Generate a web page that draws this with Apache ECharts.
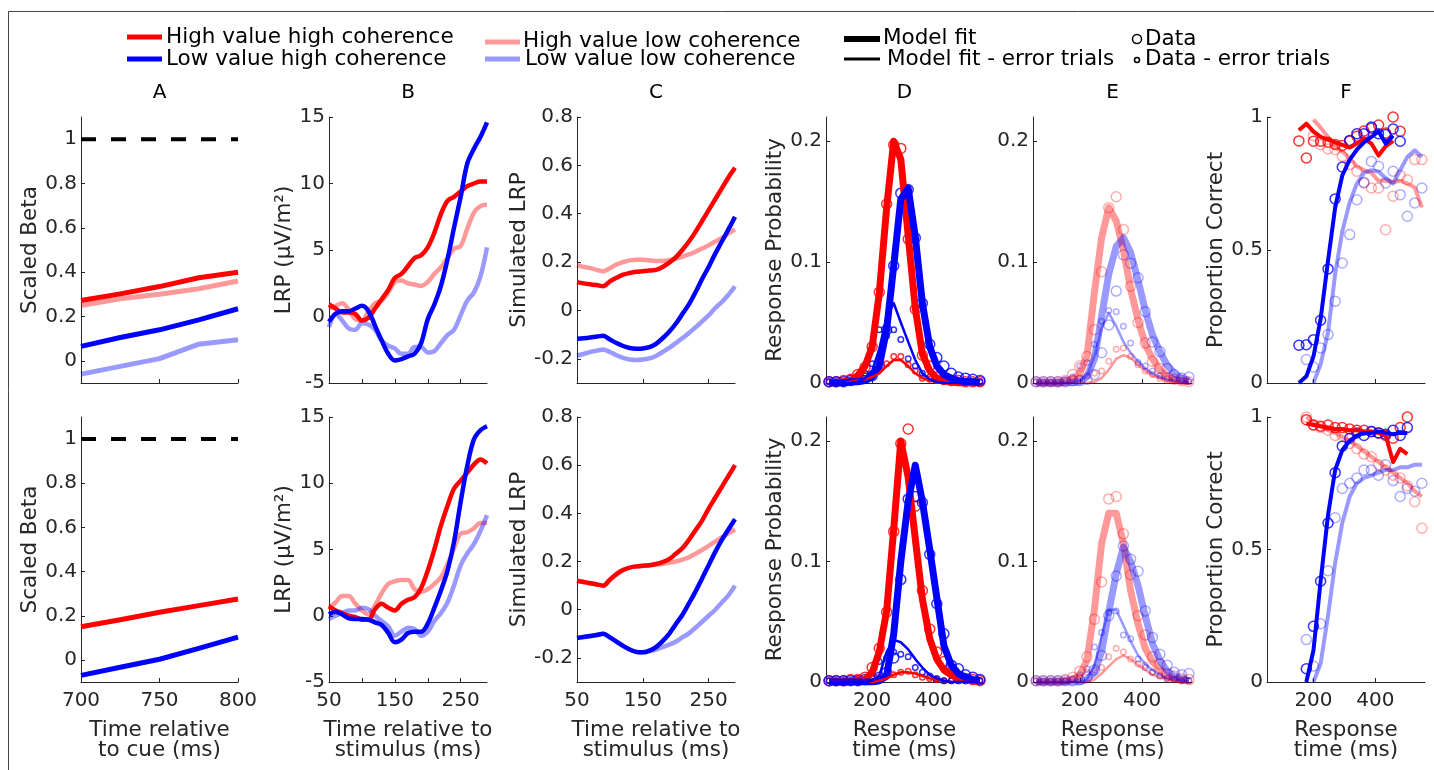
<!DOCTYPE html>
<html>
<head>
<meta charset="utf-8">
<title>Value and coherence model fits</title>
<script src="https://cdn.jsdelivr.net/npm/echarts@6.0.0/dist/echarts.min.js"></script>
<style>
  html, body { margin: 0; padding: 0; background: #fff; }
  #chart { width: 1434px; height: 770px; }
</style>
</head>
<body>
<div id="chart"></div>
<script>
// ---- data ----

// A: scaled beta vs time relative to cue
const betaTime = [700, 725, 750, 775, 800];
const boundTime = [700, 800];
const bound = [1, 1];
const aTopHH = [0.272, 0.302, 0.335, 0.375, 0.40];
const aTopHL = [0.25, 0.28, 0.30, 0.325, 0.36];
const aTopLH = [0.065, 0.105, 0.14, 0.185, 0.235];
const aTopLL = [-0.06, -0.025, 0.01, 0.075, 0.095];
const aBotHH = [0.15, 0.182, 0.216, 0.246, 0.276];
const aBotLH = [-0.07, -0.033, 0.003, 0.052, 0.103];

// B and C: time relative to stimulus
const stimTime = [50, 60, 70, 80, 90, 100, 110, 120, 130, 140, 150, 160, 170, 180, 190, 200, 210, 220, 230, 240, 250, 260, 270, 280, 290];
const bTopHH = [0.9, 0.6, 0.3, 0.3, 0.2, -0.3, -0.1, 0.6, 1.3, 2.0, 2.9, 3.2, 3.8, 4.4, 4.6, 5.2, 6.3, 7.7, 8.7, 9.0, 9.4, 9.8, 10.0, 10.15, 10.15];
const bTopHL = [0.6, 0.8, 1.0, 0.5, -0.2, -0.3, 0.4, 1.0, 1.2, 1.8, 2.6, 2.7, 2.5, 2.4, 2.3, 2.6, 3.2, 3.7, 4.4, 5.1, 5.3, 6.6, 7.8, 8.3, 8.4];
const bTopLH = [-0.4, 0.2, 0.4, 0.4, 0.6, 0.8, 0.4, -0.7, -1.8, -2.8, -3.3, -3.2, -3.0, -2.8, -2.0, -0.2, 0.9, 2.3, 4.3, 6.7, 9.0, 11.5, 12.6, 13.5, 14.6];
const bTopLL = [-0.8, 0.2, -0.3, -0.9, -1.0, -0.5, -0.6, -1.0, -1.8, -2.2, -2.4, -2.8, -2.8, -2.3, -2.3, -2.7, -2.6, -2.0, -1.4, -1.0, 0.1, 1.2, 1.8, 3.0, 5.2];
const bBotHH = [0.7, 0.4, 0.2, 0.0, -0.1, -0.3, -0.3, 0.5, 0.9, 0.6, 0.4, 0.9, 1.2, 1.4, 2.1, 3.4, 5.0, 6.8, 8.3, 9.6, 10.2, 10.8, 11.4, 11.8, 11.5];
const bBotHL = [0.6, 1.0, 1.5, 1.5, 0.9, 0.4, 0.1, 0.8, 1.7, 2.4, 2.6, 2.7, 2.7, 2.0, 1.8, 2.0, 2.4, 2.9, 3.9, 5.1, 6.2, 6.3, 6.6, 7.0, 7.0];
const bBotLH = [0.1, 0.3, 0.1, -0.2, -0.25, -0.25, -0.3, -0.5, -0.7, -1.3, -2.0, -1.8, -1.3, -1.2, -1.2, -0.6, 0.6, 1.9, 3.4, 5.6, 8.6, 11.3, 13.3, 14.0, 14.3];
const bBotLL = [-0.25, 0.0, 0.2, 0.4, 0.4, 0.6, 0.5, 0.0, -0.4, -0.8, -1.5, -1.2, -0.9, -1.0, -1.5, -1.2, -0.4, 0.2, 1.0, 2.3, 3.8, 4.7, 5.4, 6.4, 7.6];

const cTopHH = [0.117, 0.112, 0.108, 0.105, 0.10, 0.12, 0.135, 0.148, 0.155, 0.16, 0.162, 0.165, 0.168, 0.18, 0.198, 0.22, 0.25, 0.285, 0.325, 0.37, 0.415, 0.46, 0.505, 0.55, 0.59];
const cTopHL = [0.187, 0.18, 0.175, 0.168, 0.162, 0.175, 0.19, 0.2, 0.207, 0.21, 0.21, 0.207, 0.205, 0.205, 0.208, 0.215, 0.222, 0.232, 0.243, 0.256, 0.27, 0.285, 0.30, 0.318, 0.335];
const cTopLH = [-0.117, -0.115, -0.112, -0.108, -0.105, -0.12, -0.135, -0.147, -0.155, -0.158, -0.157, -0.152, -0.138, -0.115, -0.088, -0.055, -0.015, 0.025, 0.075, 0.13, 0.18, 0.235, 0.285, 0.335, 0.387];
const cTopLL = [-0.186, -0.18, -0.172, -0.166, -0.161, -0.172, -0.185, -0.196, -0.203, -0.205, -0.203, -0.198, -0.188, -0.172, -0.155, -0.135, -0.115, -0.093, -0.07, -0.045, -0.02, 0.01, 0.035, 0.065, 0.1];
const cBotHH = [0.12, 0.115, 0.11, 0.105, 0.10, 0.125, 0.148, 0.165, 0.175, 0.18, 0.183, 0.185, 0.19, 0.198, 0.21, 0.232, 0.255, 0.29, 0.33, 0.37, 0.42, 0.465, 0.51, 0.555, 0.6];
const cBotHL = [0.12, 0.115, 0.11, 0.105, 0.10, 0.125, 0.148, 0.165, 0.175, 0.18, 0.183, 0.185, 0.188, 0.19, 0.195, 0.2, 0.208, 0.218, 0.232, 0.248, 0.265, 0.283, 0.3, 0.317, 0.333];
const cBotLH = [-0.117, -0.113, -0.109, -0.105, -0.10, -0.115, -0.132, -0.15, -0.165, -0.175, -0.177, -0.17, -0.155, -0.13, -0.1, -0.06, -0.022, 0.026, 0.075, 0.13, 0.185, 0.24, 0.29, 0.333, 0.376];
const cBotLL = [-0.117, -0.113, -0.109, -0.105, -0.10, -0.115, -0.132, -0.15, -0.165, -0.175, -0.177, -0.172, -0.165, -0.155, -0.145, -0.133, -0.115, -0.098, -0.075, -0.05, -0.025, 0.0, 0.03, 0.06, 0.1];

// D, E, F: response time bins (ms)
const rtBins = [60, 83, 107, 130, 153, 177, 200, 223, 247, 270, 293, 317, 340, 363, 387, 410, 433, 457, 480, 503, 527, 550];

const dTopHH_fit = [0, 0, 0.001, 0.002, 0.006, 0.014, 0.03, 0.074, 0.145, 0.2, 0.185, 0.122, 0.062, 0.024, 0.01, 0.004, 0.002, 0.001, 0, 0, 0, 0];
const dTopHH_data = [0.001, 0.001, 0.002, 0.003, 0.007, 0.013, 0.03, 0.075, 0.148, 0.197, 0.194, 0.119, 0.061, 0.023, 0.014, 0.005, 0.003, 0.002, 0.002, 0.001, 0.001, 0.001];
const dTopLH_fit = [0, 0, 0, 0.001, 0.001, 0.002, 0.005, 0.014, 0.044, 0.097, 0.152, 0.161, 0.121, 0.066, 0.03, 0.014, 0.007, 0.004, 0.002, 0.001, 0.001, 0];
const dTopLH_data = [0.001, 0.001, 0.001, 0.002, 0.003, 0.004, 0.006, 0.014, 0.044, 0.097, 0.157, 0.16, 0.12, 0.066, 0.032, 0.021, 0.014, 0.008, 0.005, 0.004, 0.003, 0.002];
const dTopHH_errFit = [0, 0, 0, 0.001, 0.002, 0.003, 0.005, 0.008, 0.014, 0.019, 0.019, 0.014, 0.008, 0.004, 0.002, 0.001, 0, 0, 0, 0, 0, 0];
const dTopHH_errData = [0.001, 0.001, 0.001, 0.002, 0.003, 0.004, 0.006, 0.012, 0.016, 0.022, 0.022, 0.015, 0.01, 0.004, 0.003, 0.002, 0.001, 0.001, 0.001, 0.001, 0.001, 0.001];
const dTopLH_errFit = [0, 0, 0, 0, 0.001, 0.004, 0.01, 0.028, 0.055, 0.066, 0.05, 0.034, 0.019, 0.008, 0.003, 0.001, 0, 0, 0, 0, 0, 0];
const dTopLH_errData = [0.001, 0.001, 0.001, 0.002, 0.003, 0.008, 0.016, 0.044, 0.039, 0.044, 0.036, 0.02, 0.014, 0.008, 0.005, 0.003, 0.002, 0.001, 0.001, 0.001, 0.001, 0.001];

const dBotHH_fit = [0, 0, 0, 0, 0.001, 0.002, 0.008, 0.025, 0.059, 0.127, 0.2, 0.17, 0.119, 0.069, 0.036, 0.019, 0.01, 0.006, 0.003, 0.002, 0.001, 0.001];
const dBotHH_data = [0.001, 0.001, 0.001, 0.002, 0.002, 0.004, 0.012, 0.028, 0.058, 0.125, 0.198, 0.21, 0.146, 0.076, 0.044, 0.025, 0.017, 0.008, 0.004, 0.003, 0.002, 0.001];
const dBotLH_fit = [0, 0, 0, 0, 0, 0, 0, 0.001, 0.005, 0.04, 0.1, 0.15, 0.18, 0.15, 0.11, 0.07, 0.03, 0.014, 0.007, 0.004, 0.002, 0.001];
const dBotLH_data = [0.001, 0.001, 0.001, 0.001, 0.001, 0.002, 0.003, 0.004, 0.008, 0.02, 0.085, 0.152, 0.154, 0.149, 0.106, 0.065, 0.04, 0.014, 0.011, 0.006, 0.004, 0.002];
const dBotHH_errFit = [0, 0, 0, 0, 0, 0, 0, 0.001, 0.003, 0.006, 0.008, 0.008, 0.007, 0.005, 0.003, 0.002, 0.001, 0, 0, 0, 0, 0];
const dBotHH_errData = [0.001, 0.001, 0.001, 0.001, 0.002, 0.002, 0.003, 0.004, 0.006, 0.006, 0.008, 0.009, 0.006, 0.004, 0.003, 0.002, 0.001, 0.001, 0.001, 0.001, 0.001, 0.001];
const dBotLH_errFit = [0, 0, 0, 0, 0, 0, 0.001, 0.005, 0.025, 0.035, 0.033, 0.027, 0.019, 0.012, 0.006, 0.003, 0.001, 0, 0, 0, 0, 0];
const dBotLH_errData = [0.001, 0.001, 0.001, 0.001, 0.001, 0.002, 0.004, 0.017, 0.02, 0.025, 0.023, 0.021, 0.012, 0.008, 0.005, 0.003, 0.001, 0.001, 0.001, 0.001, 0.001, 0.001];

const eTopHL_fit = [0, 0, 0, 0, 0.001, 0.003, 0.008, 0.022, 0.075, 0.12, 0.145, 0.134, 0.11, 0.078, 0.052, 0.032, 0.02, 0.011, 0.006, 0.003, 0.002, 0.001];
const eTopHL_data = [0.001, 0.001, 0.001, 0.001, 0.002, 0.007, 0.014, 0.022, 0.044, 0.092, 0.145, 0.154, 0.127, 0.08, 0.05, 0.033, 0.018, 0.012, 0.004, 0.003, 0.002, 0.001];
const eTopLL_fit = [0, 0, 0, 0, 0, 0, 0.001, 0.005, 0.02, 0.055, 0.09, 0.113, 0.12, 0.108, 0.085, 0.06, 0.04, 0.026, 0.015, 0.008, 0.004, 0.002];
const eTopLL_data = [0.001, 0.001, 0.001, 0.001, 0.001, 0.002, 0.002, 0.003, 0.007, 0.025, 0.048, 0.076, 0.106, 0.099, 0.087, 0.059, 0.034, 0.026, 0.012, 0.007, 0.004, 0.005];
const eTopHL_errFit = [0, 0, 0, 0, 0, 0, 0, 0, 0.001, 0.004, 0.011, 0.02, 0.023, 0.021, 0.015, 0.01, 0.006, 0.004, 0.002, 0.001, 0, 0];
const eTopHL_errData = [0.001, 0.001, 0.001, 0.001, 0.002, 0.003, 0.004, 0.006, 0.008, 0.01, 0.018, 0.028, 0.029, 0.022, 0.015, 0.01, 0.007, 0.004, 0.003, 0.002, 0.001, 0.001];
const eTopLL_errFit = [0, 0, 0, 0, 0, 0, 0.002, 0.006, 0.022, 0.045, 0.058, 0.047, 0.034, 0.025, 0.018, 0.012, 0.008, 0.005, 0.003, 0.002, 0.001, 0];
const eTopLL_errData = [0.001, 0.001, 0.001, 0.001, 0.002, 0.005, 0.014, 0.017, 0.032, 0.051, 0.06, 0.059, 0.047, 0.033, 0.017, 0.014, 0.01, 0.006, 0.004, 0.003, 0.002, 0.001];

const eBotHL_fit = [0, 0, 0, 0, 0.001, 0.002, 0.006, 0.018, 0.06, 0.115, 0.14, 0.14, 0.115, 0.076, 0.048, 0.028, 0.017, 0.01, 0.005, 0.003, 0.002, 0.001];
const eBotHL_data = [0.001, 0.001, 0.001, 0.001, 0.002, 0.004, 0.009, 0.021, 0.052, 0.083, 0.152, 0.154, 0.123, 0.089, 0.055, 0.039, 0.021, 0.015, 0.007, 0.005, 0.003, 0.002];
const eBotLL_fit = [0, 0, 0, 0, 0, 0, 0, 0.002, 0.008, 0.025, 0.058, 0.09, 0.112, 0.1, 0.08, 0.055, 0.032, 0.018, 0.009, 0.005, 0.003, 0.001];
const eBotLL_data = [0.001, 0.001, 0.001, 0.001, 0.001, 0.001, 0.002, 0.004, 0.01, 0.022, 0.055, 0.088, 0.113, 0.102, 0.092, 0.059, 0.037, 0.023, 0.014, 0.008, 0.006, 0.007];
const eBotHL_errFit = [0, 0, 0, 0, 0, 0, 0, 0, 0.002, 0.007, 0.013, 0.019, 0.022, 0.019, 0.014, 0.01, 0.006, 0.004, 0.002, 0.001, 0, 0];
const eBotHL_errData = [0.001, 0.001, 0.001, 0.001, 0.001, 0.002, 0.004, 0.008, 0.01, 0.012, 0.021, 0.028, 0.025, 0.019, 0.015, 0.014, 0.008, 0.005, 0.003, 0.002, 0.001, 0.001];
const eBotLL_errFit = [0, 0, 0, 0, 0, 0, 0, 0.002, 0.014, 0.038, 0.06, 0.06, 0.047, 0.034, 0.022, 0.015, 0.01, 0.006, 0.003, 0.002, 0.001, 0];
const eBotLL_errData = [0.001, 0.001, 0.001, 0.001, 0.001, 0.002, 0.006, 0.011, 0.029, 0.041, 0.058, 0.059, 0.039, 0.036, 0.019, 0.012, 0.008, 0.005, 0.003, 0.002, 0.001, 0.001];

// F: proportion correct (null = no data in that bin)
const fTopHH_fit = [null, null, null, null, 0.95, 0.975, 0.945, 0.925, 0.915, 0.905, 0.895, 0.885, 0.9, 0.92, 0.9, 0.855, 0.89, 0.91, null, null, null, null];
const fTopHH_data = [null, null, null, null, 0.91, 0.846, 0.909, 0.909, 0.905, 0.897, 0.893, 0.91, 0.928, 0.947, 0.958, 0.97, 0.94, 1.0, 0.946, null, null, null];
const fTopLH_fit = [null, null, null, null, 0, 0.025, 0.1, 0.24, 0.46, 0.66, 0.78, 0.84, 0.877, 0.905, 0.925, 0.946, 0.9, 0.93, null, null, null, null];
const fTopLH_data = [null, null, null, null, 0.142, 0.144, 0.163, 0.236, 0.429, 0.692, 0.812, 0.912, 0.937, 0.937, 0.962, 0.937, 0.934, 0.955, 0.909, null, null, null];
const fTopHL_fit = [null, null, null, null, null, null, 0.99, 0.96, 0.925, 0.885, 0.87, 0.845, 0.815, 0.8, 0.79, 0.76, 0.76, 0.755, 0.76, 0.75, 0.735, 0.66];
const fTopHL_data = [null, null, null, null, null, null, 0.93, 0.896, 0.88, 0.878, 0.852, 0.821, 0.796, 0.752, 0.733, 0.733, 0.576, 0.702, 0.78, 0.764, 0.84, 0.84];
const fTopLL_fit = [null, null, null, null, null, null, 0, 0.07, 0.19, 0.41, 0.57, 0.68, 0.75, 0.79, 0.8, 0.795, 0.77, 0.75, 0.8, 0.85, 0.875, 0.85];
const fTopLL_data = [null, null, null, null, null, 0.088, 0.06, 0.132, 0.182, 0.307, 0.451, 0.558, 0.689, 0.754, 0.833, 0.815, 0.752, 0.796, 0.708, 0.627, 0.677, 0.733];

const fBotHH_fit = [null, null, null, null, null, 0.975, 0.97, 0.965, 0.96, 0.955, 0.955, 0.95, 0.95, 0.945, 0.945, 0.94, 0.93, 0.83, 0.88, 0.86, null, null];
const fBotHH_data = [null, null, null, null, null, 0.99, 0.97, 0.965, 0.97, 0.96, 0.96, 0.955, 0.95, 0.95, 0.945, 0.94, 0.93, 0.92, 0.96, 1.0, null, null];
const fBotLH_fit = [null, null, null, null, null, 0, 0.12, 0.38, 0.63, 0.8, 0.875, 0.91, 0.93, 0.94, 0.94, 0.945, 0.94, 0.935, 0.94, 0.94, null, null];
const fBotLH_data = [null, null, null, null, null, 0.05, 0.21, 0.38, 0.6, 0.79, 0.89, 0.92, 0.94, 0.93, 0.945, 0.94, 0.935, 0.95, 0.93, 0.96, null, null];
const fBotHL_fit = [null, null, null, null, null, 1.0, 0.98, 0.965, 0.95, 0.94, 0.925, 0.91, 0.89, 0.87, 0.85, 0.83, 0.81, 0.79, 0.77, 0.75, 0.72, 0.7];
const fBotHL_data = [null, null, null, null, null, 1.0, 0.97, 0.96, 0.95, 0.93, 0.93, 0.9, 0.88, 0.86, 0.85, 0.82, 0.8, 0.78, 0.77, 0.74, 0.68, 0.58];
const fBotLL_fit = [null, null, null, null, null, null, 0, 0.07, 0.25, 0.45, 0.6, 0.7, 0.75, 0.77, 0.78, 0.79, 0.8, 0.8, 0.81, 0.81, 0.82, 0.82];
const fBotLL_data = [null, null, null, null, null, 0.16, 0.06, 0.22, 0.42, 0.62, 0.73, 0.75, 0.77, 0.8, 0.8, 0.78, 0.82, 0.76, 0.7, 0.73, 0.72, 0.75];

// tick positions / labels
const betaTimeTicks = [700, 750, 800];
const betaTicks = [0, 0.2, 0.4, 0.6, 0.8, 1];
const stimTicksB = [50, 100, 150, 200, 250];
const stimLabels = [50, 150, 250];
const lrpTicks = [-5, 0, 5, 10, 15];
const simTicks = [-0.2, 0, 0.2, 0.4, 0.6, 0.8];
const rtTicks = [200, 400];
const probTicks = [0, 0.1, 0.2];
const pcTicks = [0, 0.5, 1];

// ---- styling / layout ----
const FONT = 'DejaVu Sans';
const INK = '#262626';
const RED = '#ff0000', BLUE = '#0000ff';
const PINK = 'rgba(255,0,0,0.4)', LBLUE = 'rgba(0,0,255,0.4)';

const colLeft = [81, 329, 577, 826, 1033, 1267];
const colWidth = [157, 158, 158, 157, 159, 158];
const rowTop = [117, 417];
const rowHeight = [266, 265];

const axisSpec = [
  { x: { min: 700, max: 800, ticks: betaTimeTicks, labels: betaTimeTicks, name: 'Time relative\nto cue (ms)' },
    y: { min: -0.1, max: 1.1, ticks: betaTicks, labels: betaTicks, name: 'Scaled Beta', gap: 38 } },
  { x: { min: 50, max: 290, ticks: stimTicksB, labels: stimLabels, name: 'Time relative to\nstimulus (ms)' },
    y: { min: -5, max: 15, ticks: lrpTicks, labels: lrpTicks, name: 'LRP (μV/m²)', gap: 31 } },
  { x: { min: 50, max: 290, ticks: stimLabels, labels: stimLabels, name: 'Time relative to\nstimulus (ms)' },
    y: { min: -0.3, max: 0.8, ticks: simTicks, labels: simTicks, name: 'Simulated LRP', gap: 47 } },
  { x: { min: 50, max: 560, ticks: rtTicks, labels: rtTicks, name: 'Response\ntime (ms)' },
    y: { min: 0, max: 0.22, ticks: probTicks, labels: probTicks, name: 'Response Probability', gap: 38 } },
  { x: { min: 50, max: 560, ticks: rtTicks, labels: rtTicks, name: 'Response\ntime (ms)' },
    y: { min: 0, max: 0.22, ticks: probTicks, labels: probTicks, name: '', gap: 38 } },
  { x: { min: 50, max: 560, ticks: rtTicks, labels: rtTicks, name: 'Response\ntime (ms)' },
    y: { min: 0, max: 1, ticks: pcTicks, labels: pcTicks, name: 'Proportion Correct', gap: 37 } }
];

const grids = [], xAxes = [], yAxes = [], series = [];

for (let row = 0; row < 2; row++) {
  for (let col = 0; col < 6; col++) {
    const gi = row * 6 + col;
    const s = axisSpec[col];
    grids.push({ left: colLeft[col], top: rowTop[row], width: colWidth[col], height: rowHeight[row] });
    xAxes.push({
      type: 'value', gridIndex: gi, min: s.x.min, max: s.x.max,
      axisLine: { onZero: false, lineStyle: { color: INK, width: 1 } },
      axisTick: { inside: true, length: 4, lineStyle: { color: INK }, customValues: s.x.ticks },
      axisLabel: { show: row === 1, customValues: s.x.labels, color: INK, fontSize: 20, fontFamily: FONT, margin: 9 },
      splitLine: { show: false },
      name: row === 1 ? s.x.name : '', nameLocation: 'middle', nameGap: 38,
      nameTextStyle: { color: INK, fontSize: 21.5, lineHeight: 20, fontFamily: FONT }
    });
    yAxes.push({
      type: 'value', gridIndex: gi, min: s.y.min, max: s.y.max,
      axisLine: { onZero: false, lineStyle: { color: INK, width: 1 } },
      axisTick: { inside: true, length: 4, lineStyle: { color: INK }, customValues: s.y.ticks },
      axisLabel: { customValues: s.y.labels, color: INK, fontSize: 20, fontFamily: FONT, margin: 4 },
      splitLine: { show: false },
      name: s.y.name, nameLocation: 'middle', nameGap: s.y.gap,
      nameTextStyle: { color: INK, fontSize: 21.5, fontFamily: FONT }
    });
  }
}

function pairs(xs, ys) {
  return xs.map((x, i) => [x, ys[i] === null ? '-' : ys[i]]);
}

function line(gi, xs, ys, color, width, extra) {
  return Object.assign({
    type: 'line', xAxisIndex: gi, yAxisIndex: gi, data: pairs(xs, ys),
    showSymbol: false, symbol: 'none', silent: true, connectNulls: false,
    lineStyle: { color: color, width: width, join: 'round' }
  }, extra || {});
}

function circles(gi, xs, ys, color, size) {
  return {
    type: 'scatter', xAxisIndex: gi, yAxisIndex: gi, silent: true,
    data: pairs(xs, ys).filter(p => p[1] !== '-'),
    symbol: 'circle', symbolSize: size,
    itemStyle: { color: 'rgba(0,0,0,0)', borderColor: color, borderWidth: 1.5 }
  };
}

// A
series.push(line(0, boundTime, bound, '#000', 4, { lineStyle: { color: '#000', width: 4, type: [15, 15] } }));
series.push(line(0, betaTime, aTopHL, PINK, 5));
series.push(line(0, betaTime, aTopLL, LBLUE, 5));
series.push(line(0, betaTime, aTopHH, RED, 5));
series.push(line(0, betaTime, aTopLH, BLUE, 5));
series.push(line(6, boundTime, bound, '#000', 4, { lineStyle: { color: '#000', width: 4, type: [15, 15] } }));
series.push(line(6, betaTime, aBotHH, RED, 5));
series.push(line(6, betaTime, aBotLH, BLUE, 5));

// B and C
[[1, bTopHL, bTopLL, bTopHH, bTopLH], [7, bBotHL, bBotLL, bBotHH, bBotLH],
 [2, cTopHL, cTopLL, cTopHH, cTopLH], [8, cBotHL, cBotLL, cBotHH, cBotLH]].forEach(p => {
  const sm = (p[0] % 6 === 1) ? 0.35 : 0.3;
  series.push(line(p[0], stimTime, p[1], PINK, 4.5, { smooth: sm }));
  series.push(line(p[0], stimTime, p[2], LBLUE, 4.5, { smooth: sm }));
  series.push(line(p[0], stimTime, p[3], RED, 4.5, { smooth: sm }));
  series.push(line(p[0], stimTime, p[4], BLUE, 4.5, { smooth: sm }));
});

// D and E: response time distributions
function rtPanel(gi, hi, lo, cHi, cLo) {
  series.push(line(gi, rtBins, hi.fit, cHi, 7));
  series.push(line(gi, rtBins, lo.fit, cLo, 7));
  series.push(line(gi, rtBins, hi.errFit, cHi, 2.5));
  series.push(line(gi, rtBins, lo.errFit, cLo, 2.5));
  series.push(circles(gi, rtBins, hi.data, cHi, 10));
  series.push(circles(gi, rtBins, lo.data, cLo, 10));
  series.push(circles(gi, rtBins, hi.errData, cHi, 5.5));
  series.push(circles(gi, rtBins, lo.errData, cLo, 5.5));
}
rtPanel(3, { fit: dTopHH_fit, data: dTopHH_data, errFit: dTopHH_errFit, errData: dTopHH_errData },
           { fit: dTopLH_fit, data: dTopLH_data, errFit: dTopLH_errFit, errData: dTopLH_errData }, RED, BLUE);
rtPanel(9, { fit: dBotHH_fit, data: dBotHH_data, errFit: dBotHH_errFit, errData: dBotHH_errData },
           { fit: dBotLH_fit, data: dBotLH_data, errFit: dBotLH_errFit, errData: dBotLH_errData }, RED, BLUE);
rtPanel(4, { fit: eTopHL_fit, data: eTopHL_data, errFit: eTopHL_errFit, errData: eTopHL_errData },
           { fit: eTopLL_fit, data: eTopLL_data, errFit: eTopLL_errFit, errData: eTopLL_errData }, PINK, LBLUE);
rtPanel(10, { fit: eBotHL_fit, data: eBotHL_data, errFit: eBotHL_errFit, errData: eBotHL_errData },
            { fit: eBotLL_fit, data: eBotLL_data, errFit: eBotLL_errFit, errData: eBotLL_errData }, PINK, LBLUE);

// F: accuracy
[[5, fTopHL_fit, fTopLL_fit, fTopHH_fit, fTopLH_fit, fTopHL_data, fTopLL_data, fTopHH_data, fTopLH_data],
 [11, fBotHL_fit, fBotLL_fit, fBotHH_fit, fBotLH_fit, fBotHL_data, fBotLL_data, fBotHH_data, fBotLH_data]].forEach(p => {
  const cols = [PINK, LBLUE, RED, BLUE];
  for (let k = 0; k < 4; k++) series.push(line(p[0], rtBins, p[1 + k], cols[k], 4));
  for (let k = 0; k < 4; k++) series.push(circles(p[0], rtBins, p[5 + k], cols[k], 10));
});

// ---- legend, panel letters, frame ----
const txt = (x, y, text, size, align) => ({
  type: 'text', x: x, y: y, silent: true,
  style: { text: text, fill: '#000', fontSize: size || 21.5, fontFamily: FONT, align: align || 'left', verticalAlign: 'middle' }
});
const swatch = (x1, x2, y, color, w) => ({
  type: 'line', silent: true, shape: { x1: x1, y1: y, x2: x2, y2: y }, style: { stroke: color, lineWidth: w }
});
const ring = (x, y, r) => ({
  type: 'circle', silent: true, shape: { cx: x, cy: y, r: r }, style: { fill: 'none', stroke: '#000', lineWidth: 1.5 }
});

const graphics = [
  { type: 'polyline', silent: true, shape: { points: [[8.5, 770], [8.5, 11.5], [1434, 11.5]] }, style: { stroke: '#444', lineWidth: 1, fill: 'none' } },
  swatch(127, 162, 37, RED, 5), txt(166, 37, 'High value high coherence'),
  swatch(127, 162, 59, BLUE, 5), txt(166, 59, 'Low value high coherence'),
  swatch(485, 520, 42, PINK, 5), txt(523, 41, 'High value low coherence'),
  swatch(485, 520, 59, LBLUE, 5), txt(525, 59, 'Low value low coherence'),
  swatch(844, 880, 39, '#000', 6), txt(883, 38, 'Model fit'),
  swatch(844, 880, 59, '#000', 3), txt(887, 59, 'Model fit - error trials'),
  ring(1137, 39, 4.5), txt(1145, 39, 'Data'),
  ring(1137, 60, 2.5), txt(1145, 59, 'Data - error trials')
];
['A', 'B', 'C', 'D', 'E', 'F'].forEach((t, i) => {
  graphics.push(txt(colLeft[i] + colWidth[i] / 2, 93, t, 20, 'center'));
});

const chart = echarts.init(document.getElementById('chart'), null, { renderer: 'canvas' });
chart.setOption({
  animation: false,
  backgroundColor: '#fff',
  textStyle: { fontFamily: FONT },
  grid: grids,
  xAxis: xAxes,
  yAxis: yAxes,
  series: series,
  graphic: { elements: graphics }
});
</script>
</body>
</html>
